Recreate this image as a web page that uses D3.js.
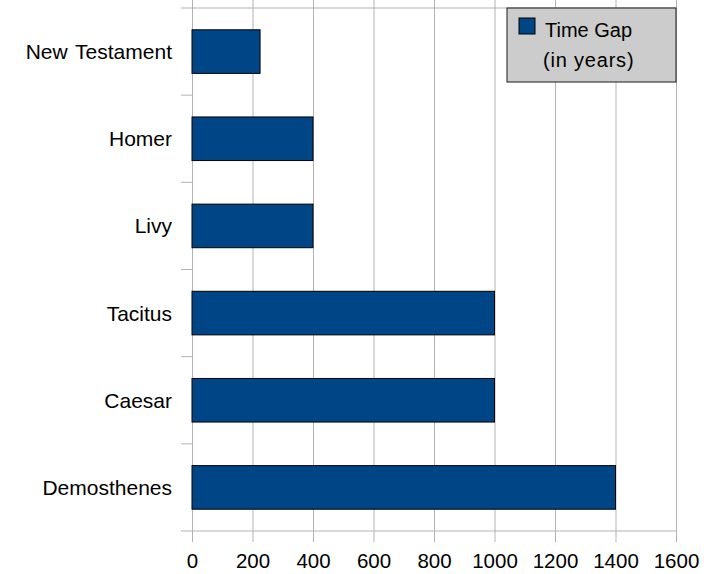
<!DOCTYPE html>
<html>
<head>
<meta charset="utf-8">
<script src="https://cdn.jsdelivr.net/npm/d3@7"></script>
<style>
  body { margin: 0; background: #fff; }
  svg { display: block; font-family: "Liberation Sans", Arial, sans-serif; }
</style>
</head>
<body>
<svg id="chart" width="721" height="574"></svg>
<script>
const categorias = ["New Testament", "Homer", "Livy", "Tacitus", "Caesar", "Demosthenes"];
const valores = [225, 400, 400, 1000, 1000, 1400];
const ticksX = [0, 200, 400, 600, 800, 1000, 1200, 1400, 1600];
const legenda = ["Time Gap", "(in years)"];

const W = 721, H = 574;
const margin = { top: 8, right: 45, bottom: 43, left: 192 };
const plotW = W - margin.left - margin.right;
const plotH = H - margin.top - margin.bottom;
const gridCor = "#b3b3b3";

const svg = d3.select("#chart");
const g = svg.append("g").attr("transform", `translate(${margin.left},${margin.top})`);

const x = d3.scaleLinear().domain([0, 1600]).range([0, plotW]);
const y = d3.scaleBand().domain(categorias).range([0, plotH]).paddingInner(0.5).paddingOuter(0.25);

// grade vertical + ticks abaixo do eixo
g.append("g")
  .attr("transform", `translate(0,${plotH})`)
  .call(d3.axisBottom(x).tickValues(ticksX).tickSize(-plotH - 11).tickPadding(0).tickFormat(d3.format("d")))
  .call((sel) => sel.select(".domain").remove())
  .call((sel) => sel.selectAll("line").attr("stroke", gridCor).attr("y1", 11))
  .call((sel) => sel.selectAll("text").attr("fill", "#000").attr("font-size", "20.5px")
    .attr("y", 37).attr("dy", null)
    .attr("font-family", "'Liberation Sans', Arial, sans-serif"));

// fronteiras entre categorias (ticks à esquerda)
const fronteiras = d3.range(categorias.length + 1).map((i) => i * plotH / categorias.length);
g.selectAll("line.fronteira")
  .data(fronteiras)
  .join("line")
  .attr("class", "fronteira")
  .attr("x1", -11)
  .attr("x2", (d, i) => (i === 0 || i === categorias.length) ? plotW : 0)
  .attr("y1", (d) => d)
  .attr("y2", (d) => d)
  .attr("stroke", gridCor)
  .attr("stroke-width", 1);

g.selectAll("rect.barra")
  .data(valores)
  .join("rect")
  .attr("class", "barra")
  .attr("x", x(0))
  .attr("y", (d, i) => y(categorias[i]))
  .attr("width", (d) => x(d) - x(0))
  .attr("height", y.bandwidth())
  .attr("fill", "#004586")
  .attr("stroke", "#000")
  .attr("stroke-width", 1);

g.selectAll("text.categoria")
  .data(categorias)
  .join("text")
  .attr("class", "categoria")
  .attr("x", -20)
  .attr("y", (d) => y(d) + y.bandwidth() / 2)
  .attr("dy", "0.36em")
  .attr("text-anchor", "end")
  .attr("font-size", "21px")
  .attr("word-spacing", "2px")
  .attr("fill", "#000")
  .text((d) => d);

// legenda
const leg = svg.append("g").attr("transform", "translate(507,8)");
leg.append("rect").attr("width", 169).attr("height", 74)
  .attr("fill", "#cccccc").attr("stroke", "#1a1a1a").attr("stroke-width", 1);
leg.append("rect").attr("x", 12).attr("y", 10).attr("width", 16).attr("height", 16)
  .attr("fill", "#004586").attr("stroke", "#000").attr("stroke-width", 1);
leg.selectAll("text")
  .data(legenda)
  .join("text")
  .attr("x", (d, i) => i === 0 ? 38 : 36)
  .attr("y", (d, i) => 29 + i * 30)
  .attr("font-size", "20px")
  .attr("letter-spacing", (d, i) => i === 0 ? null : "0.8px")
  .attr("fill", "#000")
  .text((d) => d);
</script>
</body>
</html>
